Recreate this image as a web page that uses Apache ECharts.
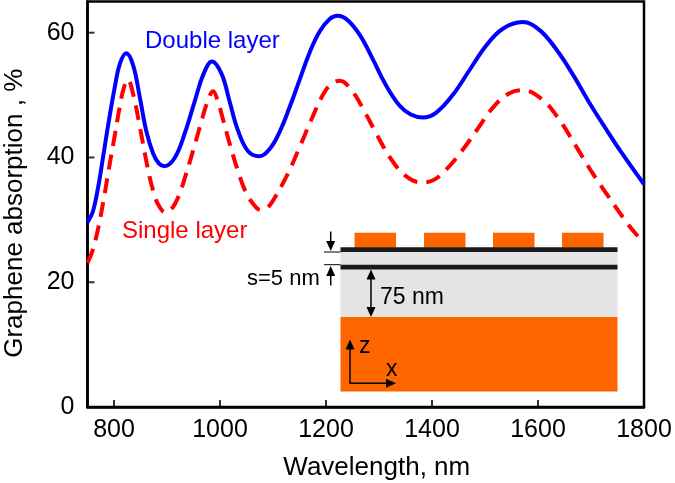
<!DOCTYPE html>
<html>
<head>
<meta charset="utf-8">
<style>
  html, body { margin: 0; padding: 0; background: #fff; }
  #main { width: 675px; height: 483px; }
</style>
<script src="https://cdn.jsdelivr.net/npm/echarts@6/dist/echarts.min.js"></script>
</head>
<body>
<div id="main"></div>
<script>
var xTicks = [800, 1000, 1200, 1400, 1600, 1800];
var yTicks = [0, 20, 40, 60];

var doubleNm = [750, 760, 770, 780, 789, 802, 811, 823, 836, 849, 861, 874, 885, 895, 915, 934, 953, 969, 985, 1003, 1018, 1034, 1053, 1074, 1094, 1113, 1132, 1150, 1169, 1188, 1207, 1222, 1241, 1264, 1288, 1313, 1339, 1360, 1383, 1408, 1439, 1470, 1502, 1533, 1571, 1602, 1633, 1665, 1696, 1728, 1759, 1800];
var doubleAbs = [29.6, 31.3, 35.2, 40.4, 45.2, 51.5, 55, 56.7, 54.8, 49.5, 44.2, 40.6, 39, 38.6, 40, 44, 49.2, 53.4, 55.4, 53.4, 49, 44.3, 41, 40.2, 41.4, 44.2, 48.2, 52.4, 56.8, 60.2, 62.2, 62.7, 62, 59.6, 55.8, 51.6, 48.3, 46.9, 46.4, 47.2, 50, 53.9, 57.9, 60.6, 61.7, 60.5, 57.5, 53.4, 48.9, 44.6, 40.6, 35.7];

var singleNm = [750, 760, 770, 780, 790, 802, 811, 818, 826, 836, 849, 861, 874, 885, 897, 910, 922, 934, 953, 965, 975, 987, 996, 1006, 1019, 1034, 1049, 1068, 1078, 1090, 1103, 1128, 1150, 1172, 1194, 1210, 1226, 1248, 1270, 1295, 1323, 1351, 1380, 1401, 1426, 1455, 1483, 1517, 1546, 1571, 1608, 1639, 1671, 1702, 1730, 1762, 1782, 1800];
var singleAbs = [23.1, 25.2, 28.6, 33, 38, 43.8, 48.2, 51, 52.5, 50.2, 44.8, 39.4, 34.6, 32.2, 31.2, 31.9, 33.8, 36.8, 42.2, 45.8, 48.6, 50.6, 49, 46, 42, 37.8, 34.4, 32, 31.6, 32, 33.5, 37.4, 41.6, 46, 50, 51.8, 52.3, 50.8, 47.8, 43.8, 39.7, 37, 36, 36.3, 38, 40.9, 44.2, 48.2, 50.3, 50.8, 49.3, 46.2, 41.9, 37.6, 34.1, 30.2, 28, 26.3];

var font = '"Liberation Sans", Arial, sans-serif';

function pairs(xs, ys) {
  return xs.map(function (x, i) { return [x, ys[i]]; });
}

// inset helpers, all in page pixels
function rect(x, y, w, h, fill) {
  return { type: 'rect', z: 10, shape: { x: x, y: y, width: w, height: h }, style: { fill: fill } };
}
function line(x1, y1, x2, y2, w) {
  return { type: 'line', z: 11, shape: { x1: x1, y1: y1, x2: x2, y2: y2 }, style: { stroke: '#000', lineWidth: w } };
}
function head(x, y, dx, dy) {
  // tip at x,y pointing along dx,dy
  var l = 10, s = 4.5;
  return {
    type: 'polygon', z: 12,
    shape: { points: [[x, y], [x - dx * l - dy * s, y - dy * l - dx * s], [x - dx * l + dy * s, y - dy * l + dx * s]] },
    style: { fill: '#000' }
  };
}
function label(x, y, str, size, color) {
  return {
    type: 'text', z: 13, x: x, y: y,
    style: { text: str, fill: color || '#000', font: size + 'px ' + font, textVerticalAlign: 'middle' }
  };
}

var inset = [
  rect(340.5, 252, 277, 65, '#e4e4e4'),
  rect(340.5, 317, 277, 74.5, '#ff6600'),
  rect(354.5, 232.7, 41.5, 15, '#ff6600'),
  rect(424, 232.7, 41.5, 15, '#ff6600'),
  rect(493, 232.7, 41.5, 15, '#ff6600'),
  rect(562, 232.7, 41.5, 15, '#ff6600'),
  rect(340.5, 247.3, 277, 4.7, '#1a1a1a'),
  rect(340.5, 264.7, 277, 4.7, '#1a1a1a'),
  line(324, 252, 340.5, 252, 1),
  line(324, 264.7, 340.5, 264.7, 1),
  line(330.7, 231.5, 330.7, 243, 1.5),
  head(330.7, 251, 0, 1),
  line(330.7, 275, 330.7, 285.5, 1.5),
  head(330.7, 266, 0, -1),
  line(371, 278, 371, 308, 1.5),
  head(371, 269.5, 0, -1),
  head(371, 317, 0, 1),
  line(350, 383.3, 350, 348, 1.5),
  head(350, 339.5, 0, -1),
  line(349.3, 383.3, 388, 383.3, 1.5),
  head(396, 383.3, 1, 0),
  label(380, 298, '75 nm', 23),
  label(247, 279, 's=5 nm', 22),
  label(359, 346.5, 'z', 23),
  label(386, 369.5, 'x', 23),
  label(145, 41, 'Double layer', 24, '#0000ff'),
  label(122, 231, 'Single layer', 24, '#ff0000')
];

// inward ticks, drawn as markers sitting on the axes
function tickSeries(data, size, offset) {
  return {
    type: 'scatter',
    silent: true,
    clip: false,
    symbol: 'rect',
    symbolSize: size,
    symbolOffset: offset,
    itemStyle: { color: '#000' },
    data: data,
    z: 4
  };
}

var chart = echarts.init(document.getElementById('main'));
chart.setOption({
  animation: false,
  backgroundColor: '#fff',
  grid: {
    left: 87.5, right: 31, top: 1.5, bottom: 76,
    outerBoundsMode: 'none',
    show: true, borderColor: '#000', borderWidth: 2.5
  },
  xAxis: {
    type: 'value',
    min: 750,
    max: 1800,
    splitLine: { show: false },
    axisLine: { show: true, lineStyle: { color: '#000', width: 2.5 } },
    axisTick: { show: false },
    axisLabel: {
      customValues: xTicks,
      formatter: function (v) { return String(v); },
      color: '#000', fontFamily: font, fontSize: 25, margin: 11
    },
    name: 'Wavelength, nm',
    nameLocation: 'middle',
    nameGap: 48,
    nameTextStyle: { color: '#000', fontFamily: font, fontSize: 26, padding: [0, 0, 0, 22] }
  },
  yAxis: {
    type: 'value',
    min: 0,
    max: 65,
    splitLine: { show: false },
    axisLine: { show: true, lineStyle: { color: '#000', width: 2.5 } },
    axisTick: { show: false },
    axisLabel: { customValues: yTicks, color: '#000', fontFamily: font, fontSize: 25, margin: 13 },
    name: 'Graphene absorption , %',
    nameLocation: 'middle',
    nameGap: 60,
    nameTextStyle: { color: '#000', fontFamily: font, fontSize: 26, padding: [0, 18, 0, 0] }
  },
  series: [
    {
      name: 'Double layer',
      type: 'line',
      showSymbol: false,
      smooth: 0.4,
      data: pairs(doubleNm, doubleAbs),
      lineStyle: { color: '#0000ff', width: 4 },
      z: 3
    },
    {
      name: 'Single layer',
      type: 'line',
      showSymbol: false,
      smooth: 0.4,
      data: pairs(singleNm, singleAbs),
      lineStyle: { color: '#ff0000', width: 4, type: [15, 9] },
      z: 2
    },
    tickSeries(xTicks.map(function (v) { return [v, 0]; }), [2, 7], [0, -3.5]),
    tickSeries(yTicks.map(function (v) { return [750, v]; }), [7, 2], [3.5, 0])
  ],
  graphic: inset
});
</script>
</body>
</html>
